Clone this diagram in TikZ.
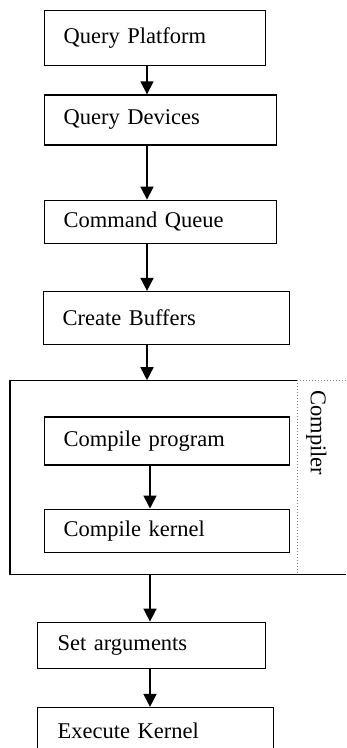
\documentclass[tikz,border=0pt]{standalone}
\usepackage{fontspec}
\setmainfont{Liberation Serif}
\usepackage{xcolor}
\usepackage{tikz}
\usetikzlibrary{arrows.meta, positioning}

\begin{document}
\begin{tikzpicture}[
    x=1pt, y=1pt,
    font=\fontsize{22.5}{27}\selectfont,
    box/.style={rectangle, draw, line width=1.3pt, inner xsep=19pt, inner ysep=0pt, align=left},
    arrow/.style={-{Triangle[width=13pt, length=13pt]}, line width=1.6pt},
    frame/.style={line width=1.3pt},
    divider/.style={gray, dotted, line width=1pt}
]
\useasboundingbox (0,0) rectangle (346,-748);

\coordinate (spine) at (147,0);
\coordinate (lowspine) at (150,0);
\coordinate (rim) at (346,0);

\node[box, anchor=north west, text width=183pt, minimum height=55pt] (plat) at (44,-10) {Query Platform};
\node[box, below=28pt of plat.south west, anchor=north west, text width=194pt, minimum height=50pt] (dev) {Query Devices};
\node[box, below=54pt of dev.south west, anchor=north west, text width=194pt, minimum height=43pt] (queue) {Command Queue};
\node[box, below left=47pt and 1pt of queue.south west, anchor=north west, text width=208pt, minimum height=53pt] (buf) {Create Buffers};

\node[minimum width=287pt, minimum height=194pt, inner sep=0pt, below left=35pt and 33pt of buf.south west, anchor=north west] (grp) {};
\node[box, below right=36pt and 34pt of grp.north west, anchor=north west, text width=207pt, minimum height=48pt] (cprog) {Compile program};
\node[box, below=43pt of cprog.south west, anchor=north west, text width=207pt, minimum height=43pt] (ckern) {Compile kernel};
\node[rotate=-90, inner sep=0pt, below right=10pt and 19pt of grp.north east, anchor=west] (clabel) {Compiler};

\node[box, below right=47pt and 27pt of grp.south west, anchor=north west, inner xsep=20pt, text width=188pt, minimum height=46pt] (args) {Set arguments};
\node[box, below=38pt of args.south west, anchor=north west, inner xsep=20pt, text width=196pt, minimum height=47pt] (exec) {Execute Kernel};

\draw[arrow] (plat.south -| spine) -- (dev.north -| spine);
\draw[arrow] (dev.south -| spine) -- (queue.north -| spine);
\draw[arrow] (queue.south -| spine) -- (buf.north -| spine);
\draw[arrow] (buf.south -| spine) -- (grp.north -| spine);
\draw[arrow] (cprog.south -| lowspine) -- (ckern.north -| lowspine);
\draw[arrow] (grp.south -| lowspine) -- (args.north -| lowspine);
\draw[arrow] (args.south -| lowspine) -- (exec.north -| lowspine);

% Groupings
\draw[frame] (grp.north east) -- (grp.north west) -- (grp.south west) -- (grp.south east) -- (grp.south east -| rim);
\draw[divider] (grp.north east) -- (grp.north east -| rim);
\draw[divider] (grp.north east) -- (grp.south east);

\end{tikzpicture}
\end{document}
